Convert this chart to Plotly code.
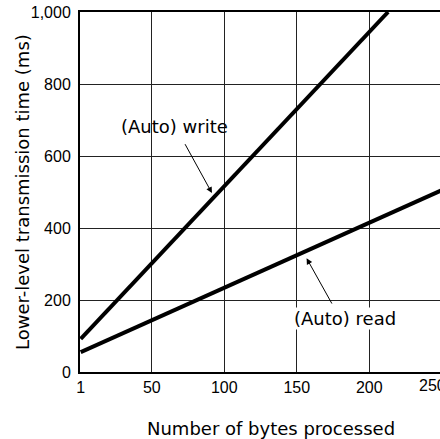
import plotly.graph_objects as go

# bytes processed vs. transmission time (ms)
write_bytes = [1, 213]
write_ms = [92, 1000]
read_bytes = [1, 250]
read_ms = [55, 505]

x_ticks = [1, 50, 100, 150, 200]
y_ticks = [0, 200, 400, 600, 800, 1000]
y_tick_text = ["0", "200", "400", "600", "800", "1,000"]

TICK_FONT = dict(family="Liberation Sans, Arial, sans-serif", size=16, color="black")
TEXT_FONT = dict(family="DejaVu Sans, sans-serif", size=18, color="black")

fig = go.Figure()

fig.add_trace(go.Scatter(x=write_bytes, y=write_ms, mode="lines",
                         line=dict(color="black", width=4),
                         name="(Auto) write", showlegend=False))
fig.add_trace(go.Scatter(x=read_bytes, y=read_ms, mode="lines",
                         line=dict(color="black", width=4),
                         name="(Auto) read", showlegend=False))

# leader arrows (tail -> tip, in data units)
fig.add_annotation(x=91.5, y=497, ax=72.4, ay=637, xref="x", yref="y",
                   axref="x", ayref="y", text="", showarrow=True,
                   arrowhead=2, arrowsize=1.2, arrowwidth=1, arrowcolor="black")
fig.add_annotation(x=156.8, y=316, ax=174.8, ay=186, xref="x", yref="y",
                   axref="x", ayref="y", text="", showarrow=True,
                   arrowhead=2, arrowsize=1.2, arrowwidth=1, arrowcolor="black")

# labels
fig.add_annotation(x=66, y=682, xref="x", yref="y", text="(Auto) write",
                   showarrow=False, xanchor="center", yanchor="middle",
                   font=TEXT_FONT)
fig.add_annotation(x=183.6, y=148, xref="x", yref="y", text="(Auto) read",
                   showarrow=False, xanchor="center", yanchor="middle",
                   bgcolor="white", borderpad=0, font=TEXT_FONT)

# the 250 tick label runs off the right edge of the window, as in the original
fig.add_annotation(x=0.978, y=0, xref="paper", yref="paper", text="250",
                   showarrow=False, xanchor="center", yanchor="top",
                   yshift=-3, font=TICK_FONT)

# axis titles
fig.add_annotation(x=0.531, y=-0.156, xref="paper", yref="paper",
                   text="Number of bytes processed", showarrow=False,
                   xanchor="center", yanchor="middle", font=TEXT_FONT)
fig.add_annotation(x=-0.161, y=0.5, xref="paper", yref="paper",
                   text="Lower-level transmission time (ms)", textangle=-90,
                   showarrow=False, xanchor="center", yanchor="middle",
                   font=TEXT_FONT)

fig.update_xaxes(
    range=[0.5, 248.8],
    tickvals=x_ticks,
    ticks="", showgrid=True, gridcolor="#222", gridwidth=1,
    showline=True, linecolor="black", linewidth=2, mirror=True,
    zeroline=False, automargin=False,
    tickfont=TICK_FONT,
)
fig.update_yaxes(
    range=[0, 1000],
    tickvals=y_ticks, ticktext=y_tick_text,
    ticks="", ticklabelstandoff=4,
    showgrid=True, gridcolor="#222", gridwidth=1,
    showline=True, linecolor="black", linewidth=2,
    zeroline=False, automargin=False,
    tickfont=TICK_FONT,
)

fig.update_layout(
    width=440, height=439,
    margin=dict(l=80, r=0, t=12, b=67),
    plot_bgcolor="white", paper_bgcolor="white",
    showlegend=False,
)

# page body has a default 8px margin; drop it so the figure sits at 0,0
fig.write_html("out.html", config={"displayModeBar": False},
               post_script="document.body.style.margin='0';")
